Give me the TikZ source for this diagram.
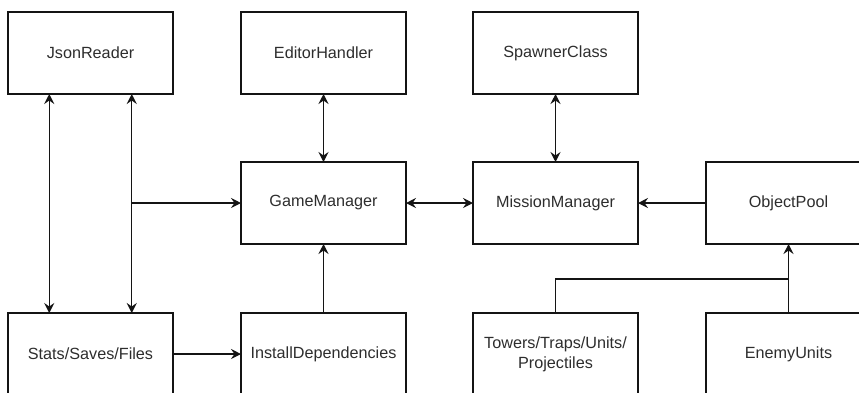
\documentclass[tikz,border=0pt]{standalone}
\usepackage{fontspec}
\setmainfont{Liberation Sans}
\usepackage{xcolor}
\usepackage{tikz}
\usetikzlibrary{arrows.meta, positioning, calc}
\definecolor{textColor}{RGB}{45,45,45}
\definecolor{lineColor}{RGB}{20,20,20}

\begin{document}
\begin{tikzpicture}[
    x=1pt, y=-1pt,
    component/.style={rectangle, draw=lineColor, line width=1.3pt, minimum width=165pt, minimum height=82pt, inner sep=0pt, outer sep=0pt, align=center, text=textColor, font=\fontsize{16.2}{20}\selectfont},
    manager/.style={component, line width=2.7pt},
    arrow/.style={-{Stealth[length=10pt, width=10pt, inset=3.5pt]}, line width=1.3pt, draw=lineColor},
    biarrow/.style={arrow, {Stealth[length=10pt, width=10pt, inset=3.5pt]}-{Stealth[length=10pt, width=10pt, inset=3.5pt]}},
    link/.style={line width=1.3pt, draw=lineColor}
]
    \useasboundingbox (0,0) rectangle (859,392);
    \clip (0,0) rectangle (859,392);

    % Top row
    \node[component] (json) at (90.5, 53) {JsonReader};
    \node[manager] (editor) at (323.5, 53) {EditorHandler};
    \node[component] (spawner) at (555.5, 53) {SpawnerClass};

    % Managers
    \node[manager] (game) at (323.5, 203) {GameManager};
    \node[manager] (mission) at (555.5, 203) {MissionManager};
    \node[component] (pool) at (788.5, 203) {ObjectPool};

    % Bottom row
    \node[component] (stats) at (90.5, 354) {Stats/Saves/Files};
    \node[component] (install) at (323.5, 354) {InstallDependencies};
    \node[component] (towers) at (555.5, 354) {Towers/Traps/Units/\\Projectiles};
    \node[component] (enemy) at (788.5, 354) {EnemyUnits};

    % Json links
    \coordinate (jsonA) at ($(json.south)!0.5!(json.south west)$);
    \coordinate (jsonB) at ($(json.south)!0.5!(json.south east)$);
    \draw[biarrow] (jsonA) -- (jsonA |- stats.north);
    \draw[biarrow] (jsonB) -- (jsonB |- stats.north);
    \draw[arrow] (jsonB |- game.west) -- (game.west);

    % Arrows
    \draw[biarrow] (editor) -- (game);
    \draw[biarrow] (spawner) -- (mission);
    \draw[biarrow] (game) -- (mission);
    \draw[arrow] (pool) -- (mission);
    \draw[arrow] (install) -- (game);
    \draw[arrow] (stats) -- (install);

    % Pooled objects
    \coordinate (join) at ($(enemy.north)+(0,-34)$);
    \draw[link] (towers.north) |- (join);
    \draw[arrow] (enemy) -- (pool);
\end{tikzpicture}
\end{document}
